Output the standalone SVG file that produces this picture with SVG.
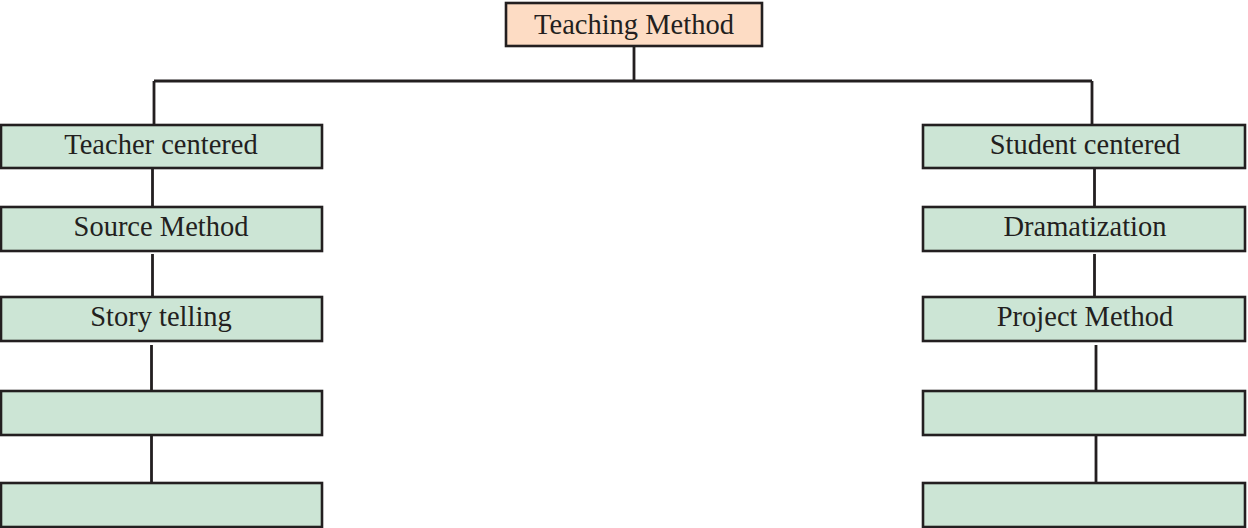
<svg xmlns="http://www.w3.org/2000/svg" width="1248" height="528" viewBox="0 0 1248 528">
<style>
.box{fill:#cce5d5;stroke:#231f20;stroke-width:2.6}
.root{fill:#fddcc4;stroke:#231f20;stroke-width:2.6}
.lbl{font-family:"Liberation Serif","Times New Roman",serif;font-size:28.5px;fill:#231f20;text-anchor:middle}
.con{stroke:#231f20;stroke-width:2.8;fill:none}
</style>
<rect width="1248" height="528" fill="#ffffff"/>
<g id="connectors">
<path class="con" d="M634 46 V81 M154 81 H1092 M154 81 V125 M1092 81 V125"/>
<path class="con" d="M152.5 168 V207 M152.5 254 V296 M151.5 345 V391 M151.5 435 V483"/>
<path class="con" d="M1094.5 168 V207 M1094.5 254 V296 M1096 345 V391 M1096 435 V483"/>
</g>
<g id="n-root"><rect class="root" x="506" y="3" width="256" height="43"/><text class="lbl" x="634" y="34">Teaching Method</text></g>
<g id="n-teacher"><rect class="box" x="1" y="125" width="321" height="43"/><text class="lbl" x="161" y="154">Teacher centered</text></g>
<g id="n-source"><rect class="box" x="1" y="207" width="321" height="44"/><text class="lbl" x="161" y="236">Source Method</text></g>
<g id="n-story"><rect class="box" x="1" y="297" width="321" height="44"/><text class="lbl" x="161" y="326">Story telling</text></g>
<g id="n-left4"><rect class="box" x="1" y="391" width="321" height="44"/></g>
<g id="n-left5"><rect class="box" x="1" y="483" width="321" height="44"/></g>
<g id="n-student"><rect class="box" x="923" y="125" width="322" height="43"/><text class="lbl" x="1085" y="154">Student centered</text></g>
<g id="n-drama"><rect class="box" x="923" y="207" width="322" height="44"/><text class="lbl" x="1085" y="236">Dramatization</text></g>
<g id="n-project"><rect class="box" x="923" y="297" width="322" height="44"/><text class="lbl" x="1085" y="326">Project Method</text></g>
<g id="n-right4"><rect class="box" x="923" y="391" width="322" height="44"/></g>
<g id="n-right5"><rect class="box" x="923" y="483" width="322" height="44"/></g>
</svg>
